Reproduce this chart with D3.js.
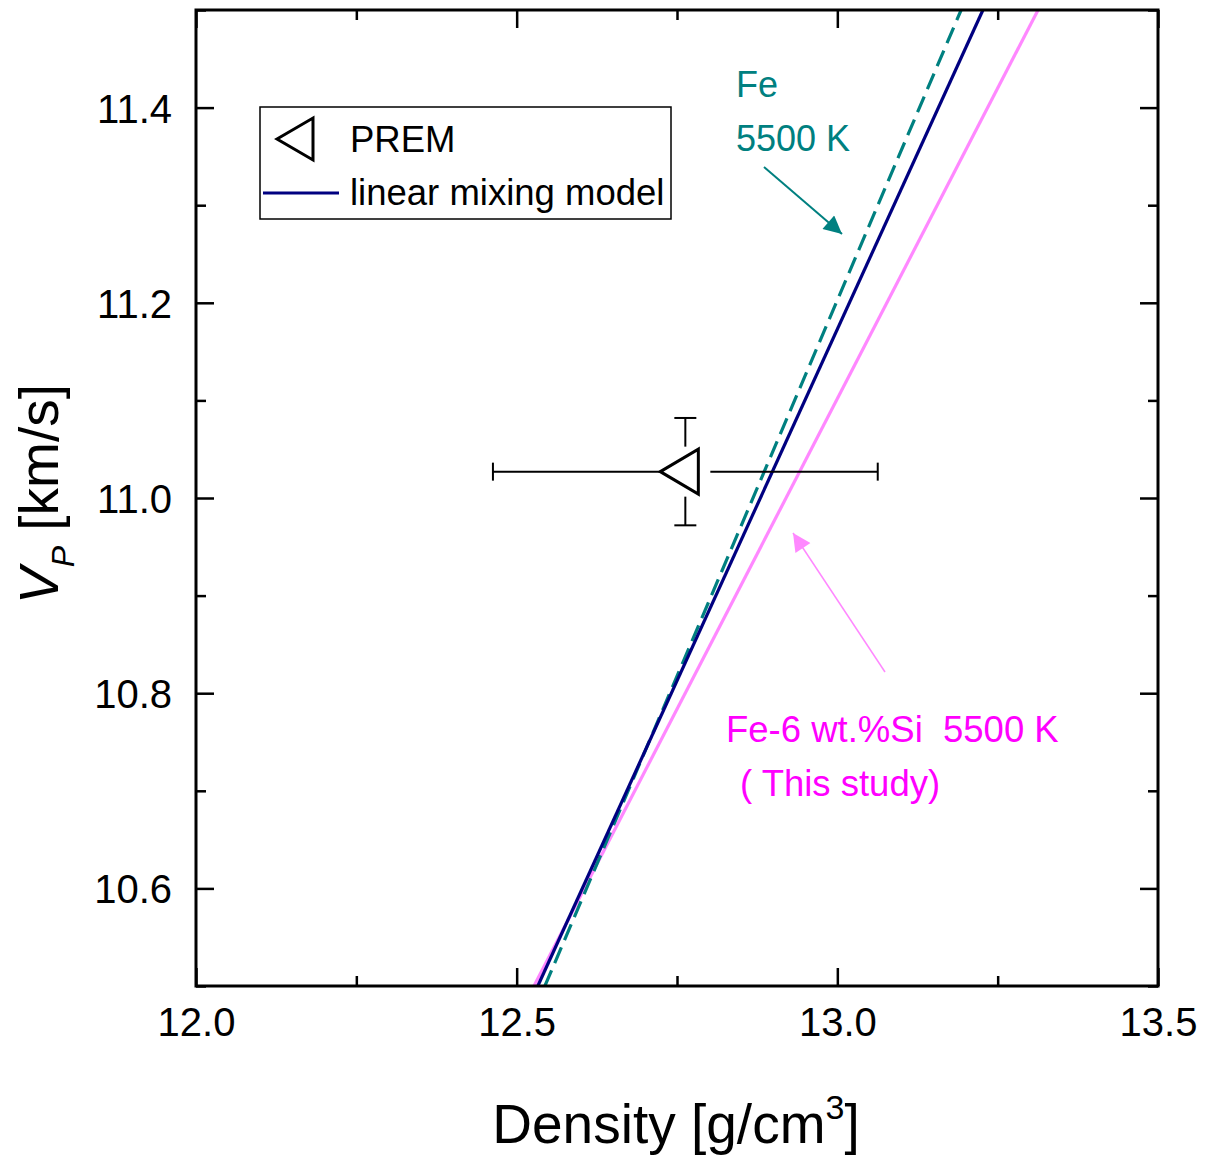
<!DOCTYPE html>
<html>
<head>
<meta charset="utf-8">
<script src="https://cdn.jsdelivr.net/npm/d3@7"></script>
<style>
  body { margin: 0; background: #fff; }
  text { font-family: Arial, "Liberation Sans", sans-serif; }
</style>
</head>
<body>
<svg id="chart" width="1213" height="1158"></svg>
<script>
// Data
const vp_ends = [10.5, 11.5];
const fe_density = [12.544, 13.193];        // Fe 5500 K (dashed)
const mix_density = [12.533, 13.227];       // linear mixing model
const fesi_density = [12.527, 13.313];      // Fe-6 wt.%Si 5500 K

const prem = { density: 12.763, vp: 11.027, d_err: 0.30, vp_err: 0.055 };

const x_major = [12.0, 12.5, 13.0, 13.5];
const x_minor = [12.25, 12.75, 13.25];
const y_major = [10.6, 10.8, 11.0, 11.2, 11.4];
const y_minor = [10.5, 10.7, 10.9, 11.1, 11.3, 11.5];

const margin = { left: 196, top: 10, right: 55, bottom: 172 };
const width = 1213 - margin.left - margin.right;
const height = 1158 - margin.top - margin.bottom;

const svg = d3.select("#chart");

const x = d3.scaleLinear().domain([12.0, 13.5]).range([0, width]);
const y = d3.scaleLinear().domain([10.5, 11.5]).range([height, 0]);

const g = svg.append("g")
    .attr("transform", `translate(${margin.left},${margin.top})`);

g.append("clipPath").attr("id", "plot-clip")
    .append("rect").attr("width", width).attr("height", height);

// Axes: ticks inward on all four sides
function draw_axis(axis_fn, scale, major, minor, transform, labels) {
    const ax = g.append("g").attr("transform", transform);
    ax.call(axis_fn(scale).tickValues(major).tickSize(-18).tickPadding(labels ? 34 : 0)
        .tickFormat(labels ? d3.format(".1f") : ""));
    ax.select(".domain").remove();
    ax.selectAll(".tick line").attr("stroke", "#000").attr("stroke-width", 2.5);
    ax.selectAll(".tick text").attr("font-size", 40).attr("fill", "#000");
    const mx = g.append("g").attr("transform", transform);
    mx.call(axis_fn(scale).tickValues(minor).tickSize(-10).tickFormat(""));
    mx.select(".domain").remove();
    mx.selectAll(".tick line").attr("stroke", "#000").attr("stroke-width", 2.5);
    return ax;
}

const xb = draw_axis(d3.axisBottom, x, x_major, x_minor, `translate(0,${height})`, true);
xb.selectAll(".tick text").attr("dy", "0.71em").attr("y", 22);
const yl = draw_axis(d3.axisLeft, y, y_major, y_minor, "translate(0,0)", true);
yl.selectAll(".tick text").attr("x", -24).attr("dy", "0.36em");
draw_axis(d3.axisTop, x, x_major, x_minor, "translate(0,0)", false);
draw_axis(d3.axisRight, y, y_major, y_minor, `translate(${width},0)`, false);

// Lines
const line = d3.line().x(d => x(d[0])).y(d => y(d[1]));
const plot = g.append("g").attr("clip-path", "url(#plot-clip)");

plot.append("path")
    .datum(fesi_density.map((d, i) => [d, vp_ends[i]]))
    .attr("d", line).attr("fill", "none")
    .attr("stroke", "#ff88ff").attr("stroke-width", 3.2);

plot.append("path")
    .datum(fe_density.map((d, i) => [d, vp_ends[i]]))
    .attr("d", line).attr("fill", "none")
    .attr("stroke", "#008080").attr("stroke-width", 3.2)
    .attr("stroke-dasharray", "17,8");

plot.append("path")
    .datum(mix_density.map((d, i) => [d, vp_ends[i]]))
    .attr("d", line).attr("fill", "none")
    .attr("stroke", "#000080").attr("stroke-width", 3.2);

// PREM with error bars (gap round the marker)
const px = x(prem.density), py = y(prem.vp);
const eb = g.append("g").attr("stroke", "#000").attr("stroke-width", 2).attr("fill", "none");
const xl = x(prem.density - prem.d_err), xr = x(prem.density + prem.d_err);
const yt = y(prem.vp + prem.vp_err), ybt = y(prem.vp - prem.vp_err);
eb.append("line").attr("x1", xl).attr("x2", px - 25).attr("y1", py).attr("y2", py);
eb.append("line").attr("x1", px + 25).attr("x2", xr).attr("y1", py).attr("y2", py);
eb.append("line").attr("x1", px).attr("x2", px).attr("y1", yt).attr("y2", py - 25);
eb.append("line").attr("x1", px).attr("x2", px).attr("y1", py + 25).attr("y2", ybt);
eb.append("line").attr("x1", xl).attr("x2", xl).attr("y1", py - 9).attr("y2", py + 9);
eb.append("line").attr("x1", xr).attr("x2", xr).attr("y1", py - 9).attr("y2", py + 9);
eb.append("line").attr("x1", px - 11).attr("x2", px + 11).attr("y1", yt).attr("y2", yt);
eb.append("line").attr("x1", px - 11).attr("x2", px + 11).attr("y1", ybt).attr("y2", ybt);

const tri = "M-25,0L13,-22.5L13,22.5Z";
g.append("path").attr("d", tri)
    .attr("transform", `translate(${px},${py})`)
    .attr("fill", "#fff").attr("stroke", "#000").attr("stroke-width", 3);

// Frame
g.append("rect").attr("width", width).attr("height", height)
    .attr("fill", "none").attr("stroke", "#000").attr("stroke-width", 3);

// Legend
const leg = svg.append("g");
leg.append("rect").attr("x", 260).attr("y", 107).attr("width", 411).attr("height", 112)
    .attr("fill", "#fff").attr("stroke", "#000").attr("stroke-width", 1.5);
leg.append("path").attr("d", "M-24,0L12,-21L12,21Z")
    .attr("transform", "translate(301,139)")
    .attr("fill", "none").attr("stroke", "#000").attr("stroke-width", 3);
leg.append("text").attr("x", 350).attr("y", 152).attr("font-size", 36.5).text("PREM");
leg.append("line").attr("x1", 263).attr("x2", 339).attr("y1", 193).attr("y2", 193)
    .attr("stroke", "#000080").attr("stroke-width", 3);
leg.append("text").attr("x", 350).attr("y", 205).attr("font-size", 36.5).text("linear mixing model");

// Annotations
svg.append("defs").selectAll("marker")
    .data([["arr-teal", "#008080"], ["arr-pink", "#ff88ff"]])
    .join("marker")
    .attr("id", d => d[0])
    .attr("viewBox", "0 0 10 10").attr("refX", 10).attr("refY", 5)
    .attr("markerUnits", "userSpaceOnUse")
    .attr("markerWidth", 24).attr("markerHeight", 18)
    .attr("orient", "auto")
    .append("path").attr("d", "M0,0L10,5L0,10Z").attr("fill", d => d[1]);

svg.append("text").attr("x", 736).attr("y", 97).attr("font-size", 36)
    .attr("fill", "#008080").text("Fe");
svg.append("text").attr("x", 736).attr("y", 151).attr("font-size", 36)
    .attr("fill", "#008080").text("5500 K");
svg.append("line").attr("x1", 764).attr("y1", 167).attr("x2", 842).attr("y2", 234)
    .attr("stroke", "#008080").attr("stroke-width", 2).attr("marker-end", "url(#arr-teal)");

svg.append("text").attr("x", 726).attr("y", 742).attr("font-size", 36.5)
    .attr("fill", "#ff00ff").style("white-space", "pre").text("Fe-6 wt.%Si  5500 K");
svg.append("text").attr("x", 740).attr("y", 796).attr("font-size", 36.5)
    .attr("fill", "#ff00ff").style("white-space", "pre").text("( This study)");
svg.append("line").attr("x1", 885).attr("y1", 672).attr("x2", 793).attr("y2", 533)
    .attr("stroke", "#ff88ff").attr("stroke-width", 1.5).attr("marker-end", "url(#arr-pink)");

// Axis titles
const xt = svg.append("text").attr("x", 676).attr("y", 1143)
    .attr("text-anchor", "middle").attr("font-size", 55);
xt.append("tspan").text("Density [g/cm");
xt.append("tspan").attr("font-size", 34).attr("dy", -24).text("3");
xt.append("tspan").attr("dy", 24).text("]");

const ytl = svg.append("text")
    .attr("transform", "translate(58,494) rotate(-90)")
    .attr("text-anchor", "middle").attr("font-size", 55);
ytl.append("tspan").attr("font-style", "italic").text("V");
ytl.append("tspan").attr("font-style", "italic").attr("font-size", 32).attr("dy", 16).text("P");
ytl.append("tspan").attr("dy", -16).text(" [km/s]");
</script>
</body>
</html>
